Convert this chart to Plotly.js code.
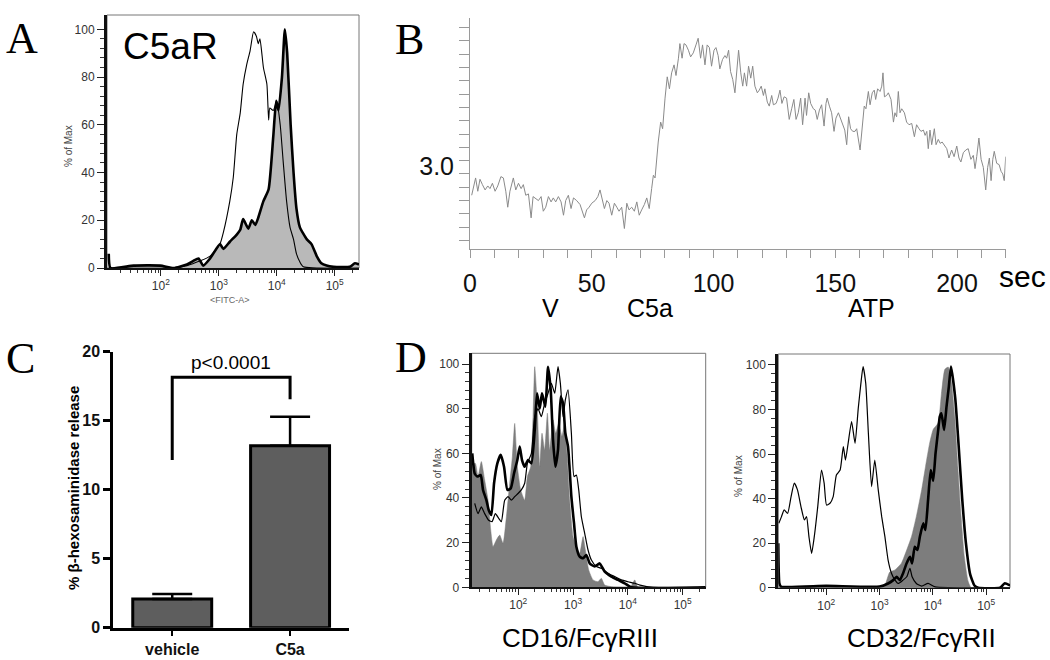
<!DOCTYPE html>
<html>
<head>
<meta charset="utf-8">
<script src="https://cdn.plot.ly/plotly-3.0.1.min.js"></script>
<style>
  body { margin: 0; background: #fff; }
  #graph { width: 1050px; height: 660px; }
</style>
</head>
<body>
<div id="graph"></div>
<script>
// ---- Panel A: C5aR flow histogram (x in log10 units) ----
const aStainX = [1.10, 1.13, 1.53, 1.99, 2.22, 2.45, 2.56, 2.65, 2.73, 2.85, 3.02, 3.08, 3.19, 3.31, 3.37, 3.42, 3.51, 3.57, 3.63, 3.68, 3.77, 3.86, 3.94, 3.99, 4.03, 4.09, 4.14, 4.18, 4.24, 4.29, 4.34, 4.40, 4.52, 4.60, 4.69, 4.77, 4.86, 4.98, 5.26, 5.35, 5.42];
const aStainY = [6, 0, 1, 1, 0, 1.5, 3, 4, 1, 4, 10, 8, 11, 14, 16, 20.5, 16.5, 20, 18, 21, 28, 33, 55, 70, 66, 80, 100, 90, 60, 40, 25, 17, 12, 10, 5, 2, 1, 0.5, 0.5, 2, 1.5];
const aIsoX = [1.10, 2.20, 2.45, 2.68, 2.85, 2.96, 3.02, 3.08, 3.19, 3.25, 3.31, 3.37, 3.42, 3.48, 3.54, 3.60, 3.65, 3.68, 3.71, 3.77, 3.83, 3.86, 3.88, 3.94, 4.00, 4.06, 4.11, 4.17, 4.23, 4.29, 4.34, 4.40, 4.46, 5.42];
const aIsoY = [0, 0, 1, 3, 5, 8, 10, 15, 28, 38, 56, 65, 77, 85, 91, 99, 97, 94, 96, 84, 77, 62, 67, 66, 70, 60, 45, 28, 17, 12, 6, 2.5, 0.5, 0];

// ---- Panel B: calcium ratio trace ----
const bTime = [0.7, 2.3, 3.2, 4.1, 5.1, 6.2, 7.3, 8.2, 9.2, 10.3, 11.4, 12.7, 13.7, 14.7, 15.5, 16.4, 17.8, 18.8, 19.9, 21.0,
  21.9, 22.9, 24.0, 25.1, 25.9, 26.7, 28.1, 29.2, 30.1, 31.1, 32.2, 33.3, 34.2, 35.2, 36.3, 37.4, 38.4, 39.3, 40.4, 41.5,
  42.5, 43.8, 45.2, 47.0, 47.9, 48.9, 50.0, 51.4, 52.5, 53.4, 54.4, 55.2, 56.2, 57.1, 58.2, 59.3, 60.3, 61.2, 62.3, 63.4,
  64.4, 65.3, 66.4, 67.5, 68.5, 69.5, 70.5, 71.6, 72.6, 73.6, 74.6, 75.3, 76.0, 76.6, 77.3, 78.3, 79.1, 80.1, 81.0, 81.9,
  82.8, 83.8, 84.6, 85.6, 86.2, 87.1, 87.9, 88.7, 89.7, 90.6, 91.7, 92.8, 93.7, 94.7, 95.5, 96.5, 97.4, 98.3, 99.2, 100.2,
  101.0, 101.9, 102.6, 103.7, 104.7, 105.4, 106.2, 107.0, 107.9, 108.8, 109.5, 110.3, 111.2, 112.0, 112.7, 113.6, 114.4, 115.3, 116.1, 117.0,
  118.0, 118.8, 119.6, 120.5, 121.1, 122.1, 122.9, 123.9, 124.6, 125.7, 126.5, 127.3, 128.1, 129.0, 130.0, 131.1, 132.1, 133.0, 133.9, 134.8,
  135.8, 136.6, 137.6, 138.2, 139.1, 139.9, 141.0, 141.8, 142.6, 143.5, 144.4, 145.4, 146.2, 146.7, 147.6, 148.5, 149.5, 150.3, 151.3, 152.2,
  153.1, 153.9, 154.7, 155.5, 156.3, 157.2, 158.1, 158.8, 160.2, 161.1, 161.9, 162.6, 163.6, 164.3, 165.2, 166.0, 166.6, 167.4, 168.4, 169.1,
  169.6, 170.2, 171.1, 171.8, 172.9, 173.9, 174.5, 175.2, 175.9, 176.6, 177.3, 178.4, 179.3, 180.3, 181.4, 182.5, 183.4, 184.4, 185.2, 186.2,
  186.9, 187.6, 188.2, 188.9, 189.6, 190.7, 191.4, 192.3, 193.1, 193.9, 194.8, 195.8, 196.7, 197.8, 198.8, 199.9, 200.8, 201.6, 202.6, 203.6,
  204.6, 205.7, 206.7, 207.4, 208.1, 209.0, 209.9, 210.8, 211.8, 212.6, 213.3, 214.0, 214.7, 215.3, 216.3, 217.3, 218.1, 218.8, 219.4, 220.0];
const bRatio = [2.74, 2.87, 2.77, 2.86, 2.82, 2.78, 2.81, 2.79, 2.83, 2.77, 2.81, 2.88, 2.87, 2.77, 2.65, 2.77, 2.87, 2.78, 2.83, 2.79,
  2.82, 2.74, 2.75, 2.57, 2.73, 2.72, 2.70, 2.73, 2.62, 2.65, 2.73, 2.69, 2.72, 2.69, 2.73, 2.69, 2.59, 2.70, 2.74, 2.64,
  2.72, 2.70, 2.67, 2.57, 2.63, 2.65, 2.68, 2.70, 2.73, 2.78, 2.69, 2.64, 2.70, 2.68, 2.59, 2.68, 2.65, 2.62, 2.65, 2.49,
  2.68, 2.63, 2.65, 2.62, 2.69, 2.59, 2.63, 2.67, 2.72, 2.64, 2.79, 2.89, 2.87, 3.02, 3.14, 3.29, 3.24, 3.47, 3.63, 3.54,
  3.66, 3.72, 3.64, 3.77, 3.88, 3.77, 3.88, 3.87, 3.83, 3.78, 3.81, 3.87, 3.92, 3.77, 3.87, 3.72, 3.87, 3.85, 3.71, 3.83,
  3.85, 3.79, 3.69, 3.76, 3.79, 3.77, 3.83, 3.67, 3.61, 3.51, 3.66, 3.83, 3.66, 3.56, 3.66, 3.56, 3.71, 3.62, 3.71, 3.56,
  3.51, 3.53, 3.56, 3.49, 3.54, 3.44, 3.41, 3.49, 3.42, 3.43, 3.47, 3.53, 3.43, 3.48, 3.47, 3.31, 3.39, 3.46, 3.31, 3.36,
  3.47, 3.27, 3.47, 3.34, 3.51, 3.43, 3.39, 3.38, 3.31, 3.38, 3.42, 3.26, 3.43, 3.47, 3.41, 3.36, 3.22, 3.32, 3.36, 3.32,
  3.28, 3.23, 3.12, 3.33, 3.24, 3.22, 3.22, 3.24, 3.08, 3.28, 3.41, 3.39, 3.52, 3.42, 3.51, 3.53, 3.46, 3.54, 3.52, 3.56,
  3.66, 3.48, 3.49, 3.51, 3.46, 3.29, 3.36, 3.33, 3.52, 3.36, 3.39, 3.36, 3.29, 3.27, 3.28, 3.18, 3.27, 3.24, 3.22, 3.23,
  3.19, 3.22, 3.09, 3.23, 3.12, 3.24, 3.12, 3.16, 3.13, 3.14, 3.12, 3.09, 3.02, 3.08, 3.03, 3.11, 3.02, 2.99, 3.06, 3.08,
  3.09, 3.01, 3.04, 2.94, 3.03, 3.17, 3.01, 2.95, 2.78, 2.95, 3.02, 2.85, 3.01, 3.07, 2.98, 2.97, 2.92, 2.90, 2.85, 3.03];
const bEventSec = [32, 72.7, 163.7];
const bEventLabels = ['V', 'C5a', 'ATP'];
const bXTicks = [0, 50, 100, 150, 200];
const bYLabelled = [3.0];
const bYMinor = [2.4, 2.5, 2.6, 2.7, 2.8, 2.9, 3.1, 3.2, 3.3, 3.4, 3.5, 3.6, 3.7, 3.8, 3.9, 4.0];

// ---- Panel C: beta-hexosaminidase release ----
const cGroups = ['vehicle', 'C5a'];
const cMeans = [2.08, 13.19];
const cSem = [0.36, 2.1];
const cBracketX = ['vehicle', 'vehicle', 'C5a', 'C5a'];
const cBracketY = [12.15, 18.15, 18.15, 16.55];

// ---- Panel D left: CD16/FcgRIII ----
const dlGrayX = [1.15, 1.217, 1.265, 1.326, 1.387, 1.448, 1.497, 1.539, 1.60, 1.661, 1.722, 1.783, 1.843, 1.892, 1.935, 1.983, 2.044, 2.117, 2.166, 2.227,
  2.269, 2.30, 2.342, 2.391, 2.433, 2.482, 2.531, 2.573, 2.634, 2.683, 2.738, 2.798, 2.847, 2.896, 2.938, 2.999, 3.06, 3.121, 3.182, 3.224,
  3.285, 3.364, 3.455, 3.516, 3.577, 3.699, 4.05, 4.124, 4.187, 5.42];
const dlGrayY = [55, 55.5, 49.6, 56.3, 48, 39, 25.7, 18.2, 21.2, 23.4, 19.7, 31.6, 46.6, 58.5, 73.4, 54, 43.6, 39, 49.6, 54,
  76.4, 98.8, 83.9, 54, 69, 61.5, 78, 61.5, 75, 69, 73.4, 67.5, 74.2, 57, 39, 22.7, 18.2, 15.2, 22.7, 16.7,
  7.8, 3.3, 2.5, 4, 1, 0.3, 0.3, 3.3, 0, 0];
const dlThickX = [1.16, 1.205, 1.253, 1.314, 1.357, 1.418, 1.46, 1.509, 1.558, 1.618, 1.679, 1.74, 1.801, 1.862, 1.922, 1.983, 2.026, 2.068, 2.117, 2.178,
  2.239, 2.30, 2.342, 2.391, 2.433, 2.494, 2.543, 2.592, 2.634, 2.677, 2.725, 2.774, 2.817, 2.859, 2.908, 2.969, 3.017, 3.06, 3.121, 3.182,
  3.242, 3.303, 3.394, 3.486, 3.577, 3.699, 3.82, 3.942, 4.064, 5.42];
const dlThickY = [60, 51, 49.6, 50.3, 43.6, 39, 34.6, 32.4, 46.6, 55.5, 59.3, 54, 43.6, 44.3, 51, 57, 63, 57, 54, 57,
  55.5, 70.4, 86.9, 80, 86.9, 80.9, 98.8, 88.4, 66, 54, 61.5, 85.4, 82.4, 69, 63, 40.6, 28.7, 18.2, 13.7, 13,
  14.5, 10.7, 9.3, 10.7, 7, 4.8, 3.3, 1.8, 0, 0];
const dlThinX = [1.205, 1.266, 1.326, 1.387, 1.46, 1.521, 1.582, 1.643, 1.691, 1.752, 1.813, 1.874, 1.935, 1.995, 2.056, 2.117, 2.166, 2.239, 2.30, 2.36,
  2.421, 2.482, 2.543, 2.604, 2.665, 2.725, 2.768, 2.817, 2.859, 2.908, 2.969, 3.017, 3.06, 3.103, 3.151, 3.212, 3.273, 3.334, 3.425, 3.516,
  3.638, 3.759, 3.881, 4.003, 4.124, 4.222, 4.46, 5.42];
const dlThinY = [37.6, 33, 36, 33, 30, 29.4, 33, 30.9, 29.4, 39, 40.6, 39, 40.6, 42, 43.6, 46.6, 55.5, 60, 76.4, 80,
  76.4, 82.4, 86.9, 91.3, 86.9, 98.8, 91.3, 76.4, 83.9, 88.4, 69, 49.6, 50.3, 43.6, 31.6, 24.2, 16.7, 12.2, 9.3, 8.5,
  6.3, 4.8, 3.3, 2.5, 1.8, 1, 0, 0];

// ---- Panel D right: CD32/FcgRII ----
const drGrayX = [1.10, 3.05, 3.10, 3.19, 3.29, 3.41, 3.51, 3.60, 3.69, 3.79, 3.88, 3.94, 4.006, 4.10, 4.16, 4.225, 4.29, 4.35, 4.41, 4.47, 4.53, 4.59, 4.66, 4.72, 5.45];
const drGrayY = [0, 0, 1, 7, 8, 11, 17, 23, 32, 44, 57, 65, 71, 74, 87, 98, 99, 92, 77, 54, 32, 14, 3, 0, 0];
const drThinX = [1.11, 1.16, 1.21, 1.275, 1.34, 1.40, 1.46, 1.525, 1.59, 1.63, 1.675, 1.725, 1.775, 1.84, 1.91, 1.96, 2.005, 2.07, 2.13, 2.19,
  2.26, 2.32, 2.36, 2.41, 2.475, 2.54, 2.60, 2.65, 2.69, 2.74, 2.79, 2.85, 2.91, 2.975, 3.04, 3.10, 3.16, 3.225, 3.29, 3.35,
  3.44, 3.51, 3.57, 3.61, 3.69, 3.79, 3.91, 4.04, 5.45];
const drThinY = [28.9, 31.9, 34.9, 33.4, 40.9, 46.9, 43.9, 36.4, 30.4, 31.9, 22.9, 15.4, 22.9, 36.4, 52.8, 46.9, 37.1, 37.9, 40.9, 50.6,
  52.8, 63.3, 57.3, 64.8, 74.6, 64.8, 80.5, 91.8, 99.3, 91.8, 69.3, 45.4, 57.3, 43.9, 31.9, 22.9, 12.4, 6.4, 3.4, 1.9,
  3.4, 4.9, 8.7, 4.9, 1.9, 0.7, 1.9, 0.4, 0];
const drThickX = [1.10, 1.12, 1.15, 2.0, 3.0, 3.16, 3.256, 3.32, 3.38, 3.44, 3.506, 3.57, 3.61, 3.66, 3.71, 3.756, 3.82, 3.86, 3.91, 3.96,
  4.006, 4.05, 4.10, 4.13, 4.16, 4.21, 4.256, 4.30, 4.34, 4.42, 4.48, 4.55, 4.62, 4.70, 4.78, 4.85, 5.26, 5.35, 5.45];
const drThickY = [20, 2, 0.5, 0.8, 0.5, 1.9, 3.4, 4.9, 3.4, 6.4, 10.9, 13.9, 10.9, 18.4, 16.9, 22.9, 28.9, 25.9, 39.4, 52.8,
  48, 60.3, 70.8, 76.8, 78.3, 70.8, 81.3, 90.3, 99.3, 85, 65, 40, 20, 6, 1, 0, 0, 2, 1];

const flowTicks = [2, 3, 4, 5];
const flowTickText = ['10<sup>2</sup>', '10<sup>3</sup>', '10<sup>4</sup>', '10<sup>5</sup>'];

// pixel -> paper helpers
const px = v => v / 1050;
const py = v => 1 - v / 660;

// minor tick positions for the log-style flow axes
const logMinor = [];
for (let d = 1; d <= 5; d++) {
    for (let k = 2; k <= 9; k++) logMinor.push(d + Math.log10(k));
}
const pctMinor = [];
for (let v = 4; v < 100; v += 4) {
    if (v % 20 !== 0) pctMinor.push(v);
}

const SANS = 'Liberation Sans, Arial, sans-serif';
const SERIF = 'Liberation Serif, Times New Roman, serif';

function flowXAxis(domain, range, anchor) {
    return {
        domain: domain, range: range, anchor: anchor,
        showline: true, linecolor: '#111', linewidth: 1.5,
        ticks: 'outside', ticklen: 6, tickwidth: 1, tickcolor: '#222',
        tickvals: flowTicks, ticktext: flowTickText,
        tickfont: { family: SANS, size: 12, color: '#333' },
        minor: { tickvals: logMinor, ticks: 'outside', ticklen: 3, tickcolor: '#333', tickwidth: 1 },
        showgrid: false, zeroline: false, fixedrange: true
    };
}

function flowYAxis(domain, top, anchor) {
    return {
        domain: domain, range: [0, top], anchor: anchor,
        showline: true, linecolor: '#111', linewidth: 3,
        ticks: 'outside', ticklen: 7, tickwidth: 1, tickcolor: '#222',
        tickvals: [0, 20, 40, 60, 80, 100],
        tickfont: { family: SANS, size: 12, color: '#333' },
        minor: { tickvals: pctMinor, ticks: 'outside', ticklen: 4, tickcolor: '#333', tickwidth: 1 },
        showgrid: false, zeroline: false, fixedrange: true
    };
}

function frame(xr, yr) {
    return {
        type: 'rect', xref: xr + ' domain', yref: yr + ' domain',
        x0: 0, x1: 1, y0: 0, y1: 1, layer: 'below',
        line: { color: '#777', width: 1 }
    };
}

const histLine = (w) => ({ color: '#000', width: w, shape: 'spline', smoothing: 0.5 });

const traces = [
    // A
    { x: aStainX, y: aStainY, xaxis: 'x', yaxis: 'y', type: 'scatter', mode: 'lines',
      fill: 'tozeroy', fillcolor: '#b9b9b9', line: histLine(2.6) },
    { x: aIsoX, y: aIsoY, xaxis: 'x', yaxis: 'y', type: 'scatter', mode: 'lines', line: histLine(1.1) },
    // B
    { x: bTime, y: bRatio, xaxis: 'x2', yaxis: 'y2', type: 'scatter', mode: 'lines',
      line: { color: '#8a8a8a', width: 1 } },
    { x: bEventSec, y: bEventSec.map(() => 2.29), xaxis: 'x2', yaxis: 'y2', type: 'scatter', mode: 'markers',
      cliponaxis: false, marker: { symbol: 'triangle-up-open', size: 8, color: '#888', line: { width: 1 } } },
    // C
    { x: cGroups, y: cMeans, xaxis: 'x3', yaxis: 'y3', type: 'bar', width: 0.67,
      marker: { color: '#5e5e5e', line: { color: '#000', width: 3 } },
      error_y: { type: 'data', symmetric: false, array: cSem, arrayminus: [0, 0],
                 color: '#000', thickness: 2.5, width: 20 } },
    { x: cBracketX, y: cBracketY, xaxis: 'x3', yaxis: 'y3', type: 'scatter', mode: 'lines',
      line: { color: '#000', width: 3 } },
    // D left
    { x: dlGrayX, y: dlGrayY, xaxis: 'x4', yaxis: 'y4', type: 'scatter', mode: 'lines',
      fill: 'tozeroy', fillcolor: '#7d7d7d', line: { color: '#7d7d7d', width: 0.5, shape: 'spline', smoothing: 0.5 } },
    { x: dlThinX, y: dlThinY, xaxis: 'x4', yaxis: 'y4', type: 'scatter', mode: 'lines', line: histLine(1.2) },
    { x: dlThickX, y: dlThickY, xaxis: 'x4', yaxis: 'y4', type: 'scatter', mode: 'lines', line: histLine(2.6) },
    // D right
    { x: drGrayX, y: drGrayY, xaxis: 'x5', yaxis: 'y5', type: 'scatter', mode: 'lines',
      fill: 'tozeroy', fillcolor: '#7d7d7d', line: { color: '#7d7d7d', width: 0.5, shape: 'spline', smoothing: 0.5 } },
    { x: drThinX, y: drThinY, xaxis: 'x5', yaxis: 'y5', type: 'scatter', mode: 'lines', line: histLine(1.2) },
    { x: drThickX, y: drThickY, xaxis: 'x5', yaxis: 'y5', type: 'scatter', mode: 'lines', line: histLine(2.6) }
];

const annotations = [
    { text: 'A', x: px(22), y: py(38), font: { family: SERIF, size: 44, color: '#000' } },
    { text: 'B', x: px(409), y: py(40), font: { family: SERIF, size: 44, color: '#000' } },
    { text: 'C', x: px(20), y: py(358), font: { family: SERIF, size: 44, color: '#000' } },
    { text: 'D', x: px(411), y: py(357), font: { family: SERIF, size: 44, color: '#000' } },
    { text: 'C5aR', x: px(121), y: py(47), xanchor: 'left', font: { family: SANS, size: 37, color: '#000' } },
    { text: '% of Max', x: px(68), y: py(146), textangle: -90, font: { family: SANS, size: 10, color: '#444' } },
    { text: '% of Max', x: px(437), y: py(469), textangle: -90, font: { family: SANS, size: 10, color: '#444' } },
    { text: '% of Max', x: px(738), y: py(476), textangle: -90, font: { family: SANS, size: 10, color: '#444' } },
    { text: '&lt;FITC-A&gt;', x: px(230), y: py(300), font: { family: SANS, size: 9, color: '#666' } },
    { text: 'CD16/Fc\u03b3RIII', x: px(580), y: py(638), font: { family: SANS, size: 26, color: '#000' } },
    { text: 'CD32/Fc\u03b3RII', x: px(922), y: py(638), font: { family: SANS, size: 26, color: '#000' } },
    { text: 'sec', x: px(1022), y: py(276), font: { family: SANS, size: 30, color: '#000' } },
    { text: 'p<0.0001', x: px(231), y: py(362), font: { family: SANS, size: 19, color: '#000' } },
    { text: '% \u03b2-hexosaminidase release', x: px(73), y: py(488), textangle: -90,
      font: { family: SANS, size: 15, color: '#000', weight: 'bold' } }
].map(a => Object.assign({ xref: 'paper', yref: 'paper', showarrow: false, xanchor: 'center', yanchor: 'middle' }, a));

bEventSec.forEach((s, i) => {
    annotations.push({
        text: bEventLabels[i], x: s, xref: 'x2', y: py(308), yref: 'paper', xshift: 3,
        showarrow: false, xanchor: 'center', yanchor: 'middle',
        font: { family: SANS, size: 25, color: '#000' }
    });
});

const layout = {
    width: 1050, height: 660, autosize: false,
    margin: { l: 0, r: 0, t: 0, b: 0 },
    paper_bgcolor: '#fff', plot_bgcolor: '#fff',
    showlegend: false,
    // A
    xaxis: flowXAxis([px(107), px(359)], [1.07, 5.42], 'y'),
    yaxis: flowYAxis([py(268), py(15)], 106, 'x'),
    // B
    xaxis2: {
        domain: [px(470), px(1005.7)], range: [0, 220], anchor: 'y2',
        showline: true, linecolor: '#9a9a9a', linewidth: 1,
        ticks: 'outside', ticklen: 8, tickcolor: '#9a9a9a',
        tickvals: bXTicks, ticktext: bXTicks.map(String), ticklabelstandoff: 4,
        minor: { dtick: 10, ticks: 'outside', ticklen: 8, tickcolor: '#9a9a9a' },
        tickfont: { family: SANS, size: 25, color: '#111' },
        showgrid: false, zeroline: false, fixedrange: true
    },
    yaxis2: {
        domain: [py(249), py(18.3)], range: [2.336, 4.07], anchor: 'x2',
        showline: true, linecolor: '#9a9a9a', linewidth: 1,
        ticks: 'outside', ticklen: 10, tickcolor: '#9a9a9a',
        tickvals: bYLabelled, ticktext: ['3.0'], ticklabelshift: 6,
        minor: { tickvals: bYMinor, ticks: 'outside', ticklen: 10, tickcolor: '#9a9a9a' },
        tickfont: { family: SANS, size: 25, color: '#111' },
        showgrid: false, zeroline: false, fixedrange: true
    },
    // C
    xaxis3: {
        domain: [px(113.3), px(349)], range: [-0.5, 1.5], anchor: 'y3', type: 'category',
        showline: true, linecolor: '#000', linewidth: 3,
        ticks: 'outside', ticklen: 5, tickwidth: 2.5, tickcolor: '#000',
        tickfont: { family: SANS, size: 16, color: '#111', weight: 'bold' },
        showgrid: false, zeroline: false, fixedrange: true
    },
    yaxis3: {
        domain: [py(627.7), py(351.7)], range: [0, 20], anchor: 'x3',
        showline: true, linecolor: '#000', linewidth: 3,
        ticks: 'outside', ticklen: 7, tickwidth: 2.5, tickcolor: '#000', dtick: 5,
        tickfont: { family: SANS, size: 16, color: '#111', weight: 'bold' },
        showgrid: false, zeroline: false, fixedrange: true
    },
    // D left
    xaxis4: flowXAxis([px(471.7), px(705.7)], [1.15, 5.42], 'y4'),
    yaxis4: flowYAxis([py(587.3), py(353.3)], 104.8, 'x4'),
    // D right
    xaxis5: flowXAxis([px(778.3), px(1010)], [1.1, 5.447], 'y5'),
    yaxis5: flowYAxis([py(587.7), py(354)], 104.9, 'x5'),
    shapes: [frame('x', 'y'), frame('x4', 'y4'), frame('x5', 'y5')],
    annotations: annotations
};

Plotly.newPlot('graph', traces, layout, { displayModeBar: false, staticPlot: true });
</script>
</body>
</html>
